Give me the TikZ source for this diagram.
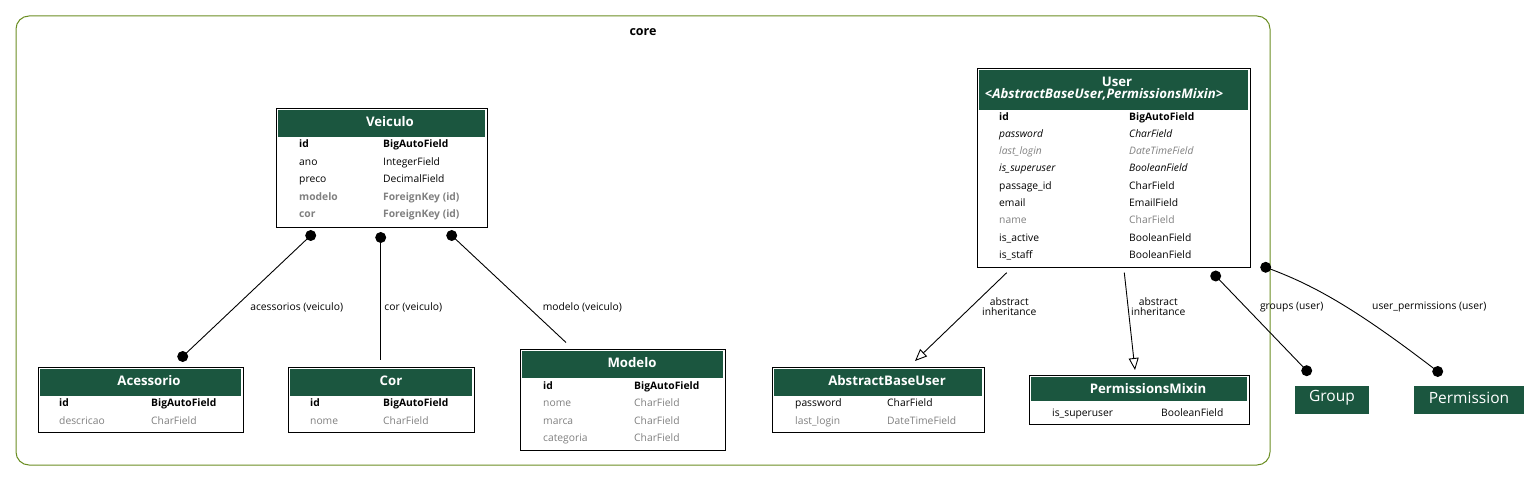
\documentclass[tikz,border=0pt]{standalone}
\usepackage{fontspec}
\setmainfont{Open Sans}
\usetikzlibrary{arrows.meta,calc}
\definecolor{hdr}{RGB}{27,86,63}
\definecolor{clus}{RGB}{107,142,35}
\definecolor{gr}{RGB}{128,128,128}
\newcommand\rfnt{\fontsize{10.3}{12}\selectfont}
\newcommand\hfnt{\fontsize{13.2}{14}\selectfont\bfseries}
\newcommand\tablebox[6]{%
  \node[tbox, minimum width={#4-#2}, minimum height={#5-#3}] (#1) at (#2,#3) {};
  \node[hbox, minimum width={#4-#2-4}, minimum height={#6-#3-2}] (#1h) at (#2+2,#3+2) {};
}
\newcommand\fld[7]{%
  \node[rowt,#5] (#1a) at (#2,#4) {#6};
  \node[rowt,#5] (#1b) at (#3,#4) {#7};
}
\tikzset{
  tbox/.style={draw=black, line width=0.9pt, fill=white, inner sep=0, outer sep=0, anchor=north west},
  hbox/.style={fill=hdr, draw=none, inner sep=0, outer sep=0, anchor=north west},
  htext/.style={text=white, font=\hfnt, inner sep=0, align=center},
  rowt/.style={anchor=west, inner sep=0, text height=10.5pt, text depth=2pt, font=\rfnt},
  pk/.style={font=\rfnt\bfseries},
  it/.style={font=\rfnt\itshape},
  gy/.style={text=gr},
  gyb/.style={font=\rfnt\bfseries, text=gr},
  gyi/.style={font=\rfnt\itshape, text=gr},
  elab/.style={font=\rfnt, align=center, inner sep=0},
  conn/.style={draw=black, line width=0.9pt},
  dot/.style={circle, fill=black, inner sep=0, minimum size=11pt},
  ext/.style={fill=hdr, inner sep=0, text=white, anchor=north west},
  extt/.style={text=white, font=\fontsize{15.5}{17}\selectfont, inner sep=0},
}
\begin{document}
\begin{tikzpicture}[x=1pt, y=-1pt]
\useasboundingbox (0,0) rectangle (1540,481);
% cluster
\draw[clus, line width=1pt, rounded corners=13pt] (16,16) rectangle (1270,465);
\node[font=\fontsize{12.5}{14}\selectfont\bfseries, inner sep=0] (core) at (643,32) {core};

% Veiculo
\tablebox{veiculo}{276}{108}{487}{227}{137}
\node[htext] (veiculot) at (390,122) {Veiculo};
\fld{v1}{299}{383}{143.5}{pk}{id}{BigAutoField}
\fld{v2}{299}{383}{161}{}{ano}{IntegerField}
\fld{v3}{299}{383}{178.5}{}{preco}{DecimalField}
\fld{v4}{299}{383}{196}{gyb}{modelo}{ForeignKey (id)}
\fld{v5}{299}{383}{213.5}{gyb}{cor}{ForeignKey (id)}

% User
\tablebox{user}{977}{68}{1250}{267}{110}
\node[htext] (usert) at (1117,82) {User};
\node[htext, font=\hfnt\itshape] (users) at (1104,94.5) {<AbstractBaseUser,PermissionsMixin>};
\fld{u1}{999}{1129}{116.5}{pk}{id}{BigAutoField}
\fld{u2}{999}{1129}{133}{it}{password}{CharField}
\fld{u3}{999}{1129}{150.5}{gyi}{last\_login}{DateTimeField}
\fld{u4}{999}{1129}{167.5}{it}{is\_superuser}{BooleanField}
\fld{u5}{999}{1129}{185}{}{passage\_id}{CharField}
\fld{u6}{999}{1129}{202.5}{}{email}{EmailField}
\fld{u7}{999}{1129}{219.5}{gy}{name}{CharField}
\fld{u8}{999}{1129}{237}{}{is\_active}{BooleanField}
\fld{u9}{999}{1129}{254.5}{}{is\_staff}{BooleanField}

% Acessorio
\tablebox{acess}{38}{367}{243}{432}{396}
\node[htext] (acesst) at (149,380.5) {Acessorio};
\fld{a1}{59}{151}{402.7}{pk}{id}{BigAutoField}
\fld{a2}{59}{151}{420}{gy}{descricao}{CharField}

% Cor
\tablebox{cor}{288}{367}{474}{432}{396}
\node[htext] (cort) at (391,380.5) {Cor};
\fld{c1}{310}{383}{402.7}{pk}{id}{BigAutoField}
\fld{c2}{310}{383}{420}{gy}{nome}{CharField}

% Modelo
\tablebox{modelo}{520}{349}{725}{450}{378}
\node[htext] (modelot) at (632,362.5) {Modelo};
\fld{m1}{543}{634}{385.5}{pk}{id}{BigAutoField}
\fld{m2}{543}{634}{402.7}{gy}{nome}{CharField}
\fld{m3}{543}{634}{420}{gy}{marca}{CharField}
\fld{m4}{543}{634}{437.3}{gy}{categoria}{CharField}

% AbstractBaseUser
\tablebox{abu}{772}{367}{984}{432}{396}
\node[htext] (abut) at (887,380.5) {AbstractBaseUser};
\fld{b1}{795}{887}{402.7}{}{password}{CharField}
\fld{b2}{795}{887}{420.3}{gy}{last\_login}{DateTimeField}

% PermissionsMixin
\tablebox{pm}{1029}{375}{1249}{424}{401}
\node[htext] (pmt) at (1148,389) {PermissionsMixin};
\fld{p1}{1052}{1161}{412}{}{is\_superuser}{BooleanField}

% external
\node[ext, minimum width=74pt, minimum height=28pt] (group) at (1295,386) {};
\node[extt] (groupt) at (1332,397.5) {Group};
\node[ext, minimum width=110pt, minimum height=28pt] (perm) at (1414,386) {};
\node[extt] (permt) at (1469,397.5) {Permission};

% connector end points
\coordinate (cE) at (380.7,360);
\coordinate (mE) at (566,342.5);
\coordinate (iA) at (1006.7,272.7);
\coordinate (iAt) at (915,361);
\coordinate (iB) at (1124.3,272.7);
\coordinate (iBt) at (1135,370);

% connectors
\node[dot] (vA) at (310.7,235.5) {};
\node[dot] (vC) at (380.7,237.5) {};
\node[dot] (vM) at (451.7,235.5) {};
\node[dot] (aV) at (182.7,356.5) {};
\node[dot] (uG) at (1215.7,276) {};
\node[dot] (uP) at (1265.7,267.3) {};
\node[dot] (gU) at (1306.7,370.7) {};
\node[dot] (pU) at (1437.7,371.5) {};

\draw[conn] (vA.center) -- (aV.center);
\draw[conn] (vC.center) -- (cE);
\draw[conn] (vM.center) -- (mE);
\draw[conn, -{Triangle[open, length=12pt, width=10pt]}] (iA) -- (iAt);
\draw[conn, -{Triangle[open, length=12pt, width=10pt]}] (iB) -- (iBt);
\draw[conn] (uG.center) -- (gU.center);
\draw[conn] (uP.center) .. controls (1305,282) and (1345,300) .. (pU.center);

% labels
\node[elab] (l1) at (296.7,307) {acessorios (veiculo)};
\node[elab] (l2) at (413.3,307) {cor (veiculo)};
\node[elab] (l3) at (582.3,307) {modelo (veiculo)};
\node[elab] (l4) at (1009.3,306.5) {abstract\\[-2.5pt]inheritance};
\node[elab] (l5) at (1158.3,306.5) {abstract\\[-2.5pt]inheritance};
\node[elab] (l6) at (1291.7,307) {groups (user)};
\node[elab] (l7) at (1429.3,307) {user\_permissions (user)};
\end{tikzpicture}
\end{document}
